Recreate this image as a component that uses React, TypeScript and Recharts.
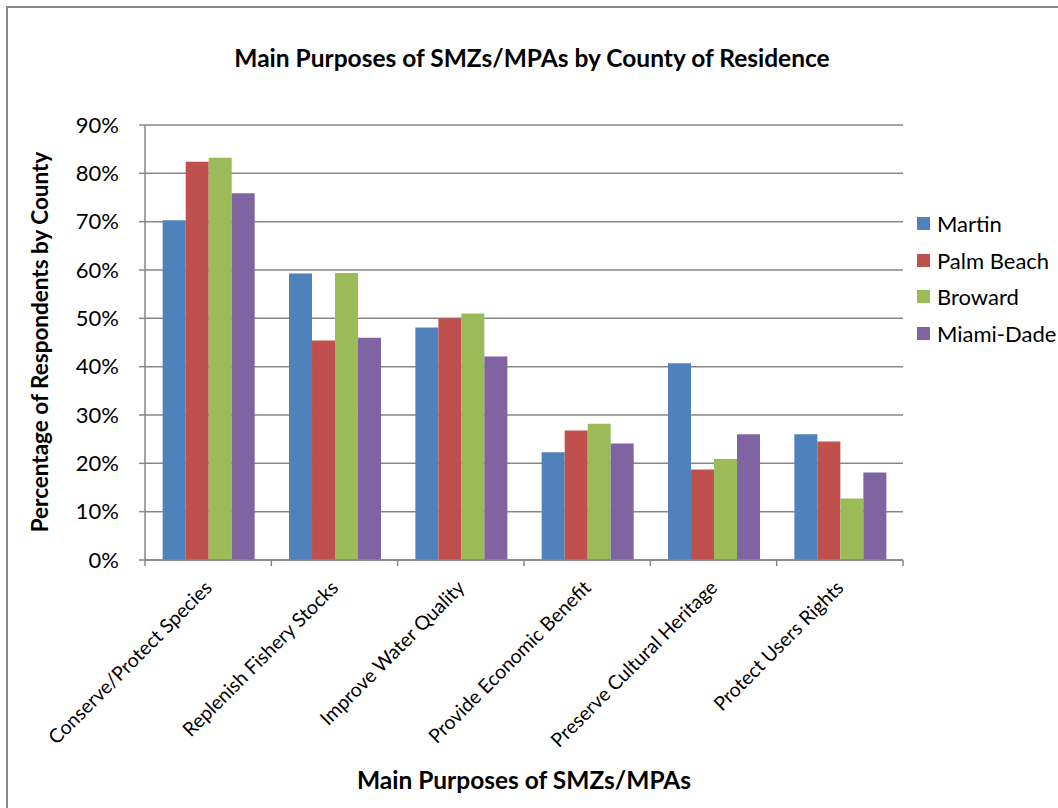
import React from 'react';
import { BarChart, Bar, XAxis, YAxis, CartesianGrid } from 'recharts';

const categories = [
  'Conserve/Protect Species',
  'Replenish Fishery Stocks',
  'Improve Water Quality',
  'Provide Economic Benefit',
  'Preserve Cultural Heritage',
  'Protect Users Rights',
];

const martin = [70.3, 59.3, 48.1, 22.3, 40.7, 26.0];
const palmBeach = [82.4, 45.4, 50.0, 26.8, 18.7, 24.5];
const broward = [83.2, 59.4, 51.0, 28.2, 20.9, 12.7];
const miamiDade = [75.9, 46.0, 42.1, 24.1, 26.0, 18.1];

const yTicks = [0, 10, 20, 30, 40, 50, 60, 70, 80, 90];

const series = [
  { key: 'martin', name: 'Martin', color: '#4F81BD' },
  { key: 'palmBeach', name: 'Palm Beach', color: '#C0504D' },
  { key: 'broward', name: 'Broward', color: '#9BBB59' },
  { key: 'miamiDade', name: 'Miami-Dade', color: '#8064A2' },
];

const data = categories.map((category, i) => ({
  category,
  martin: martin[i],
  palmBeach: palmBeach[i],
  broward: broward[i],
  miamiDade: miamiDade[i],
}));

const FONT = 'Lato, "Liberation Sans", sans-serif';
const AXIS_GRAY = '#878787';

const CategoryTick = (props: any) => {
  const { x, y, payload, index } = props;
  const half = payload?.offset ?? 63;
  const tx = x + 5;
  const ty = y + 29;
  return (
    <g>
      <line x1={x - half} x2={x - half} y1={y} y2={y + 6} stroke={AXIS_GRAY} strokeWidth={1.5} />
      {index === categories.length - 1 && (
        <line x1={x + half} x2={x + half} y1={y} y2={y + 6} stroke={AXIS_GRAY} strokeWidth={1.5} />
      )}
      <text
        x={tx}
        y={ty}
        transform={`rotate(-45, ${tx}, ${ty})`}
        textAnchor="end"
        fill="#000"
        fontSize={19.5}
        fontFamily={FONT}
      >
        {payload.value}
      </text>
    </g>
  );
};

export default function App() {
  return (
    <div style={{ position: 'absolute', left: 0, top: 0, width: 1058, height: 808, overflow: 'hidden', background: '#fff', fontFamily: FONT }}>
      <div style={{ position: 'absolute', left: 6, top: 6, width: 1070, height: 820, borderLeft: `2px solid ${AXIS_GRAY}`, borderTop: `2px solid ${AXIS_GRAY}` }} />

      <div style={{ position: 'absolute', left: 6, top: 44, width: 1052, textAlign: 'center', fontSize: 24.5, fontWeight: 'bold', lineHeight: '28px', color: '#000' }}>
        Main Purposes of SMZs/MPAs by County of Residence
      </div>

      <div style={{ position: 'absolute', left: 0, top: 0 }}>
        <BarChart
          width={1058}
          height={808}
          data={data}
          margin={{ top: 125, right: 155, bottom: 218, left: 65 }}
          barCategoryGap="14%"
          barGap={0}
        >
          <CartesianGrid vertical={false} stroke={AXIS_GRAY} strokeWidth={1.5} />
          <XAxis
            dataKey="category"
            height={30}
            interval={0}
            tickLine={false}
            tickSize={0}
            tickMargin={0}
            axisLine={{ stroke: AXIS_GRAY, strokeWidth: 1.5 }}
            tick={<CategoryTick />}
          />
          <YAxis
            width={80}
            domain={[0, 90]}
            ticks={yTicks}
            interval={0}
            tickFormatter={(v: number) => `${v}%`}
            tickSize={6}
            tickMargin={20}
            axisLine={{ stroke: AXIS_GRAY, strokeWidth: 1.5 }}
            tickLine={{ stroke: AXIS_GRAY, strokeWidth: 1.5 }}
            tick={{ fill: '#000', fontSize: 22, fontFamily: FONT }}
          />
          {series.map((s) => (
            <Bar key={s.key} dataKey={s.key} name={s.name} fill={s.color} isAnimationActive={false} />
          ))}
        </BarChart>
      </div>

      <div style={{ position: 'absolute', left: 917, top: 205 }}>
        {series.map((s) => (
          <div key={s.key} style={{ display: 'flex', alignItems: 'center', height: 36.7 }}>
            <span style={{ display: 'inline-block', width: 13, height: 13, background: s.color, marginRight: 7 }} />
            <span style={{ fontSize: 22, color: '#000', whiteSpace: 'nowrap' }}>{s.name}</span>
          </div>
        ))}
      </div>

      <div
        style={{
          position: 'absolute',
          left: 40 - 200,
          top: 342 - 14,
          width: 400,
          height: 28,
          lineHeight: '28px',
          textAlign: 'center',
          transform: 'rotate(-90deg)',
          fontSize: 22.5,
          fontWeight: 'bold',
          color: '#000',
        }}
      >
        Percentage of Respondents by County
      </div>

      <div style={{ position: 'absolute', left: 524 - 250, top: 766, width: 500, textAlign: 'center', fontSize: 24.5, fontWeight: 'bold', lineHeight: '28px', color: '#000' }}>
        Main Purposes of SMZs/MPAs
      </div>
    </div>
  );
}
